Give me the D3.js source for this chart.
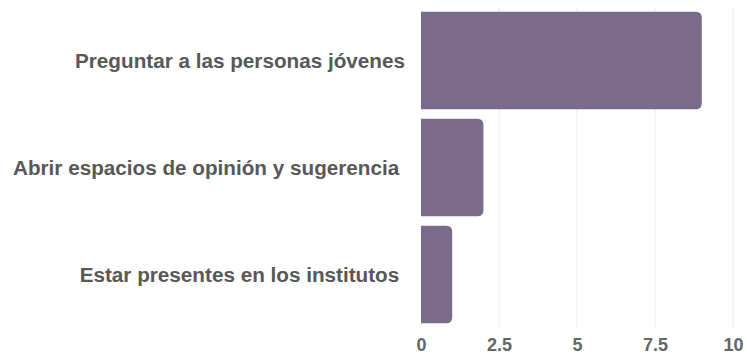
<!DOCTYPE html>
<html>
<head>
<meta charset="utf-8">
<script src="https://cdn.jsdelivr.net/npm/d3@7"></script>
<style>
  html, body { margin: 0; padding: 0; background: #fff; }
  svg { display: block; font-family: "Liberation Sans", Arial, sans-serif; }
</style>
</head>
<body>
<svg id="chart" width="747" height="354"></svg>
<script>
// Responses and their counts
const categories = [
  "Preguntar a las personas jóvenes",
  "Abrir espacios de opinión y sugerencia ",
  "Estar presentes en los institutos "
];
const values = [9, 2, 1];
const tickValues = [0, 2.5, 5, 7.5, 10];
const tickLabels = ["0", "2.5", "5", "7.5", "10"];

const svg = d3.select("#chart");
const margin = { left: 421, right: 14, top: 7, bottom: 26 };
const width = 747, height = 354;

const x = d3.scaleLinear().domain([0, 10]).range([margin.left, width - margin.right]);
const y = d3.scaleBand().domain(categories)
  .range([margin.top, height - margin.bottom])
  .paddingInner(0.09).paddingOuter(0.045);

// vertical gridlines
svg.append("g").selectAll("line").data(tickValues.slice(1)).join("line")
  .attr("x1", d => x(d)).attr("x2", d => x(d))
  .attr("y1", margin.top).attr("y2", height - margin.bottom)
  .attr("stroke", "#ececec").attr("stroke-width", 1);

// bars with rounded right corners
const r = 6;
function barPath(d, i) {
  const x0 = x(0), x1 = x(d), y0 = y(categories[i]), h = y.bandwidth();
  const rr = Math.min(r, (x1 - x0) / 2);
  return `M${x0},${y0}H${x1 - rr}Q${x1},${y0} ${x1},${y0 + rr}` +
         `V${y0 + h - rr}Q${x1},${y0 + h} ${x1 - rr},${y0 + h}H${x0}Z`;
}
svg.append("g").selectAll("path").data(values).join("path")
  .attr("d", barPath)
  .attr("fill", "#7b6b8b");

// category labels
svg.append("g").selectAll("text").data(categories).join("text")
  .attr("x", 405)
  .attr("y", d => y(d) + y.bandwidth() / 2)
  .attr("dy", "0.35em")
  .attr("text-anchor", "end")
  .style("white-space", "pre")
  .attr("font-size", 20.7)
  .attr("font-weight", "bold")
  .attr("fill", "#585858")
  .text(d => d);

// x axis tick labels
const xAxis = d3.axisBottom(x).tickValues(tickValues)
  .tickFormat((d, i) => tickLabels[i]).tickSize(0).tickPadding(0);
const gx = svg.append("g").attr("transform", `translate(0, 351)`).call(xAxis);
gx.select(".domain").remove();
gx.selectAll("text")
  .attr("font-size", 18)
  .attr("font-weight", "bold")
  .attr("fill", "#666")
  .attr("font-family", "Liberation Sans, Arial, sans-serif")
  .attr("dy", 0)
  .attr("y", 0);
</script>
</body>
</html>
